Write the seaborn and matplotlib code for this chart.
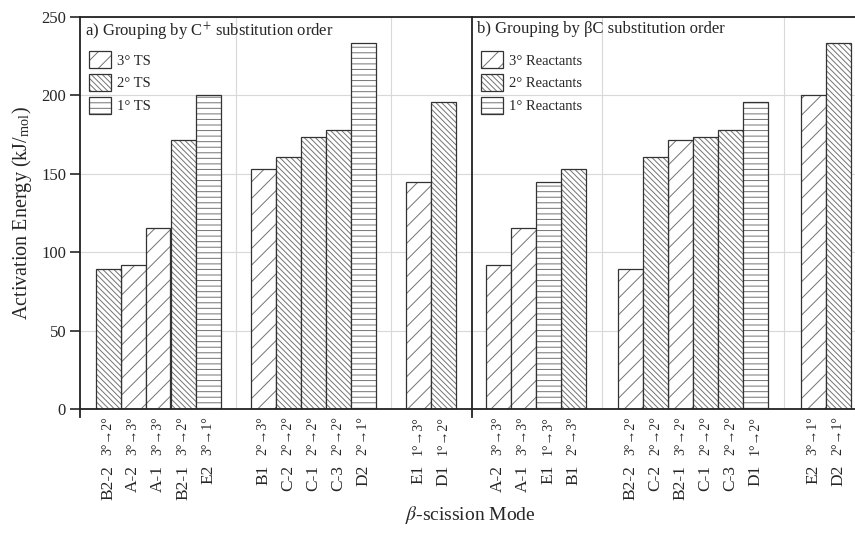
import numpy as np
import pandas as pd
import matplotlib
matplotlib.use("Agg")
import matplotlib.pyplot as plt
import matplotlib.transforms as mtransforms
from matplotlib.patches import Patch
import seaborn as sns

# ---------------- data ----------------
left_modes = ["B2-2", "A-2", "A-1", "B2-1", "E2", "B1", "C-2", "C-1", "C-3", "D2", "E1", "D1"]
left_trans = ["3°→2°", "3°→3°", "3°→3°", "3°→2°", "3°→1°",
              "2°→3°", "2°→2°", "2°→2°", "2°→2°", "2°→1°",
              "1°→3°", "1°→2°"]
left_energy = [89, 92, 115.5, 171.5, 200, 153, 160.5, 173.5, 178, 233.5, 144.5, 196]
left_order = ["2° TS", "3° TS", "3° TS", "2° TS", "1° TS",
              "3° TS", "2° TS", "2° TS", "2° TS", "1° TS",
              "3° TS", "2° TS"]
left_group_sizes = [5, 5, 2]

right_modes = ["A-2", "A-1", "E1", "B1", "B2-2", "C-2", "B2-1", "C-1", "C-3", "D1", "E2", "D2"]
right_trans = ["3°→3°", "3°→3°", "1°→3°", "2°→3°",
               "3°→2°", "2°→2°", "3°→2°", "2°→2°", "2°→2°", "1°→2°",
               "3°→1°", "2°→1°"]
right_energy = [92, 115.5, 144.5, 153, 89, 160.5, 171.5, 173.5, 178, 196, 200, 233.5]
right_order = ["3° Reactants", "3° Reactants", "1° Reactants", "2° Reactants",
               "3° Reactants", "2° Reactants", "3° Reactants", "2° Reactants", "2° Reactants", "1° Reactants",
               "3° Reactants", "2° Reactants"]
right_group_sizes = [4, 6, 2]

left_levels = ["3° TS", "2° TS", "1° TS"]
right_levels = ["3° Reactants", "2° Reactants", "1° Reactants"]
y_ticks = [0, 50, 100, 150, 200, 250]

# ---------------- style ----------------
sns.set_style("ticks")
plt.rcParams["font.family"] = ["Liberation Serif", "DejaVu Serif"]
plt.rcParams["mathtext.fontset"] = "stix"
plt.rcParams["hatch.linewidth"] = 0.7

EDGE = "#333333"
HATCH_COLOR = (0.45, 0.45, 0.45, 1.0)
GRID = "#d8d8d8"
HATCHES = ["//", "\\\\\\\\\\\\", "---"]


def positions(sizes, gap):
    pos, start = [], 0.0
    for n in sizes:
        pos.extend(start + np.arange(n))
        start = pos[-1] + gap
    return np.array(pos)


def hatch_patch(p, h):
    p.set_hatch(h)
    p.set_edgecolor(EDGE)
    p._hatch_color = HATCH_COLOR
    return p


def draw_panel(ax, modes, trans, energy, order, levels, sizes, gap, xlim, title, show_y):
    pos = positions(sizes, gap)
    df = pd.DataFrame({"x": pos, "energy": energy, "order": order})
    ax.set_axisbelow(True)
    ax.yaxis.grid(True, color=GRID, linewidth=0.8)
    idx = np.cumsum(sizes)[:-1]
    for i in idx:
        ax.axvline((pos[i - 1] + pos[i]) / 2, color=GRID, linewidth=0.8, zorder=0)
    sns.barplot(data=df, x="x", y="energy", hue="order", hue_order=levels,
                palette=["white"] * 3, dodge=False, native_scale=True, width=1,
                edgecolor=EDGE, linewidth=0.9, errorbar=None, legend=False, ax=ax)
    for cont, h in zip(ax.containers, HATCHES):
        for bar in cont:
            hatch_patch(bar, h)
    ax.set_xlim(*xlim)
    ax.set_ylim(0, 250)
    ax.set_yticks(y_ticks)
    ax.set_xticks(pos)
    ax.set_xticklabels(trans, rotation=90, fontsize=10)
    ax.tick_params(axis="x", length=0, pad=5)
    if show_y:
        ax.tick_params(axis="y", direction="out", length=7, width=1.2, labelsize=12, pad=3)
    else:
        ax.tick_params(axis="y", length=0, labelleft=False)
    ax.set_xlabel("")
    ax.set_ylabel("")
    for s in ["top", "left", "bottom"]:
        ax.spines[s].set_visible(True)
        ax.spines[s].set_color("#222222")
        ax.spines[s].set_linewidth(1.3)
    ax.spines["right"].set_visible(False)
    ax.spines["left"].set_bounds(-5, 250)
    trans_blend = mtransforms.blended_transform_factory(ax.transData, ax.transAxes)
    for p, m in zip(pos, modes):
        ax.text(p, -0.142, m, transform=trans_blend, rotation=90, ha="center", va="top",
                fontsize=12.5)
    ax.text(0.012, 0.99, title, transform=ax.transAxes, ha="left", va="top", fontsize=12)
    handles = [hatch_patch(Patch(facecolor="white", linewidth=0.9), h) for h in HATCHES]
    leg = ax.legend(handles, levels, loc="upper left", bbox_to_anchor=(0.0, 0.935), frameon=False,
                    fontsize=10.5, handlelength=1.5, handleheight=1.4, labelspacing=0.42,
                    handletextpad=0.45, borderaxespad=0.2)
    for lh in leg.legend_handles:
        lh._hatch_color = HATCH_COLOR


fig = plt.figure(figsize=(8.55, 5.35), dpi=100)
W, H = 855, 535
axL = fig.add_axes([80 / W, (H - 409) / H, 392 / W, 392 / H])
axR = fig.add_axes([472 / W, (H - 409) / H, 383 / W, 392 / H])

draw_panel(axL, left_modes, left_trans, left_energy, left_order, left_levels,
           left_group_sizes, 2.2, (-1.12, 14.56),
           "a) Grouping by C$^{+}$ substitution order", True)
draw_panel(axR, right_modes, right_trans, right_energy, right_order, right_levels,
           right_group_sizes, 2.3, (-1.04, 14.28),
           "b) Grouping by βC substitution order", False)

fig.text(22 / W, 1 - 213 / H, r"Activation Energy (kJ/$_{\mathregular{mol}}$)", rotation=90,
         ha="center", va="center", fontsize=14.5)
fig.text(470 / W, 1 - 515 / H, r"$\it{\beta}$-scission Mode", ha="center", va="center", fontsize=14)

fig.savefig("out.png", dpi=100)
